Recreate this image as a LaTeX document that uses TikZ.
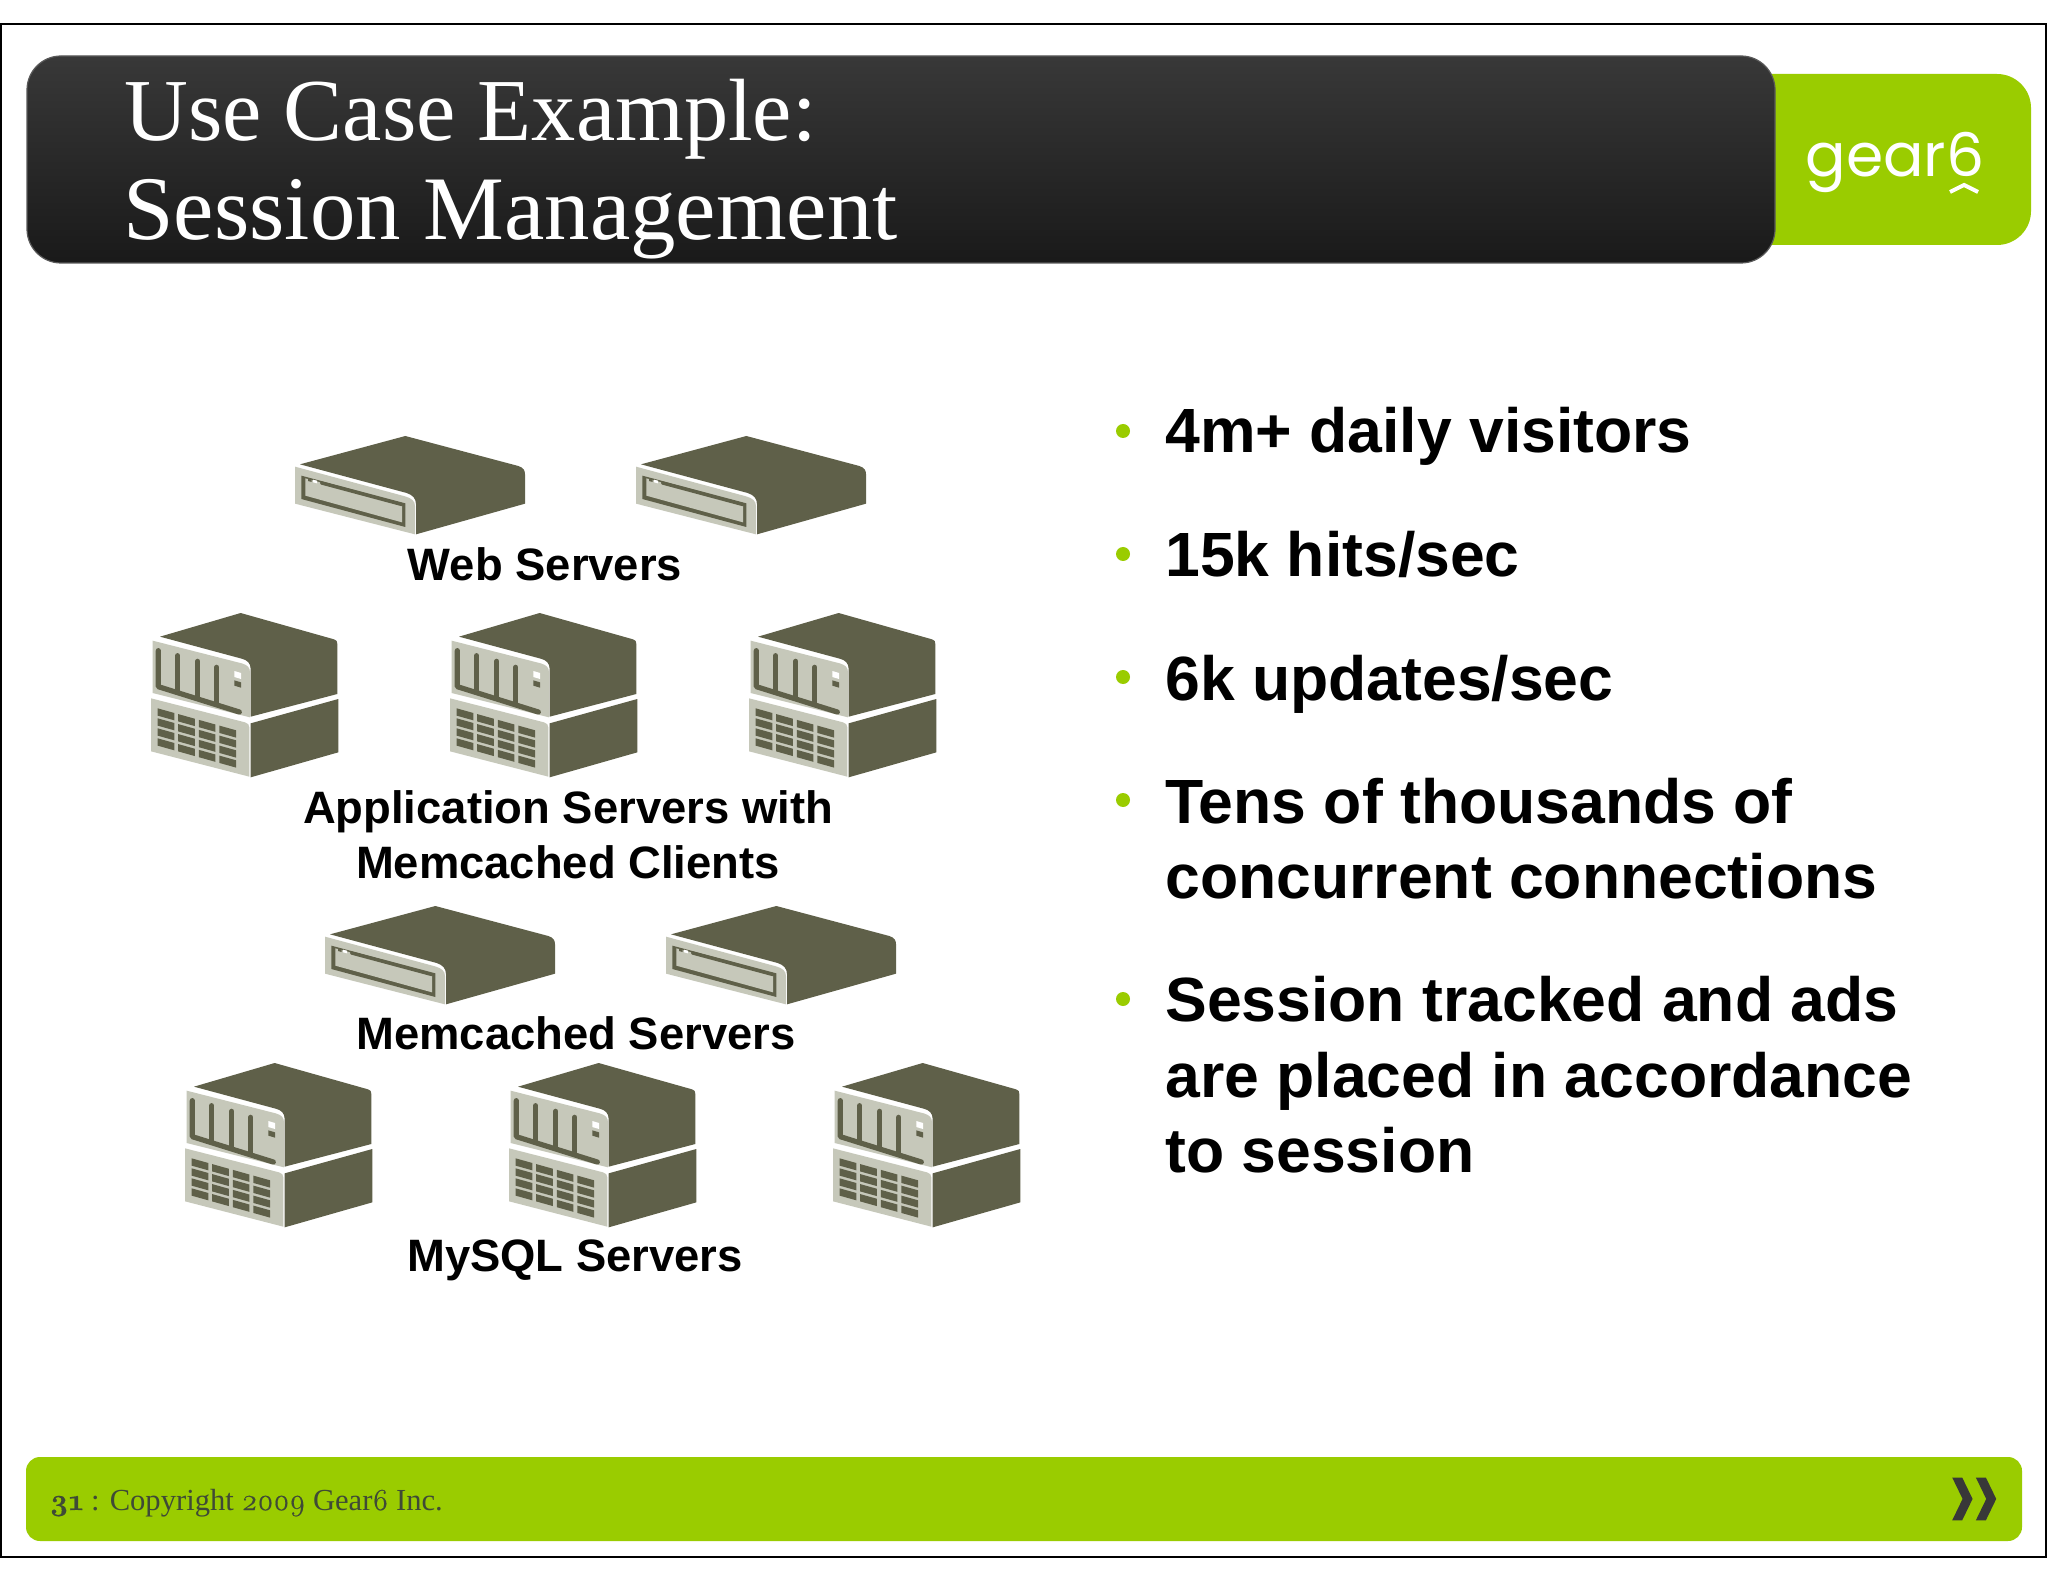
\documentclass[tikz,border=0pt]{standalone}
\usepackage{fontspec}
\setmainfont{Liberation Sans}
\newfontfamily\serifface{Liberation Serif}
\newfontfamily\logoface{Poppins}
\newfontfamily\oldface[Numbers=OldStyle,FakeBold=0.5]{Latin Modern Roman}
\definecolor{srvdark}{HTML}{5F6049}
\definecolor{srvlight}{HTML}{C6C8BA}
\definecolor{geargreen}{HTML}{9ACC00}
\definecolor{footink}{HTML}{3F4A36}
\tikzset{
  x=0.5pt,y=-0.5pt,
  lab/.style={inner sep=0pt,anchor=base,font=\fontsize{22.7}{26}\selectfont\bfseries,text=black},
  bul/.style={inner sep=0pt,anchor=base west,font=\fontsize{31.25}{36}\selectfont\bfseries,text=black},
  dot/.style={circle,fill=geargreen,inner sep=0pt,minimum size=7pt},
  ttl/.style={inner sep=0pt,anchor=base west,text=white},
  smallsrv/.pic={
    \begin{scope}[scale=1/3,shift={(-495,-45)}]
      \fill[srvdark] (510,130) -- (826,45) -- (1165,135) .. controls (1180,140) and (1185,148) .. (1185,160) -- (1185,248) -- (858,340) -- (858,250) .. controls (858,232) and (848,222) .. (830,216) -- cycle;
      \fill[srvlight] (495,137) -- (825,226) .. controls (845,232) and (855,240) .. (855,255) -- (855,340) -- (495,248) -- cycle;
      \fill[srvdark] (514,164) -- (826,247) -- (826,318) -- (514,234) -- cycle;
      \fill[srvlight] (526,172) -- (816,250) -- (816,304) -- (526,224) -- cycle;
      \fill[srvdark] (534,172) -- (545,175) -- (545,183) -- (534,180) -- cycle;
      \fill[white] (549,176) -- (561,179) -- (561,187) -- (549,184) -- cycle;
      \draw[srvdark,line width=1.6pt,line cap=round] (574,186) -- (816,251);
    \end{scope}
  },
  bigsrv/.pic={
    \begin{scope}[scale=1/3,shift={(-63,-577)}]
      \fill[srvdark] (90,648) -- (332,577) -- (612,656) .. controls (620,658) and (622,662) .. (622,670) -- (622,820) -- (362,888) -- (362,745) .. controls (362,728) and (352,718) .. (335,714) -- cycle;
      \fill[srvlight] (68,660) -- (335,728) .. controls (352,733) and (360,740) .. (360,755) -- (360,890) -- (68,817) -- cycle;
      \fill[srvdark] (362,908) -- (625,835) -- (625,995) -- (362,1070) -- cycle;
      \fill[srvlight] (63,833) -- (345,905) .. controls (354,908) and (358,912) .. (358,920) -- (358,1068) -- (63,992) -- cycle;
      \begin{scope}[srvdark,line width=2.6pt,line cap=round,line join=round]
        \draw (85,690) -- (85,798) -- (328,874);
        \draw (143,705) -- (143,815);
        \draw (203,722) -- (203,833);
        \draw (260,740) -- (260,850);
      \end{scope}
      \fill[white] (313,751) -- (333,757) -- (333,775) -- (313,769) -- cycle;
      \fill[srvdark] (313,779) -- (333,785) -- (333,801) -- (313,795) -- cycle;
      \foreach \c in {0,...,3} \foreach \r in {0,...,3} {
        \fill[srvdark,shift={({83+61.7*\c},{863+0.28*61.7*\c+30*\r})}] (0,0) -- (50,14) -- (50,36) -- (0,22) -- cycle;
      }
    \end{scope}
  }
}
\begin{document}
\begin{tikzpicture}
\useasboundingbox (0,0) rectangle (2048,1582);
\fill[white] (0,0) rectangle (2048,1582);
\draw[black,line width=1pt] (1,24) rectangle (2046,1557);
% logo panel
\fill[geargreen,rounded corners=17pt] (1700,74) rectangle (2031,245);
\node[inner sep=0pt,anchor=base,text=white,font=\logoface\fontsize{30}{36}\selectfont] (logo) at (1895,177) {gear6};
\draw[white,line width=2pt] (1950,192) -- (1964,185) -- (1978,192);
% title
\shade[top color=black!78,bottom color=black!90,draw=black!65,line width=0.6pt,rounded corners=17pt] (27,56) rectangle (1775,263);
\node[ttl,font=\serifface\fontsize{44.2}{50}\selectfont] (t1) at (124,141) {Use Case Example:};
\node[ttl,font=\serifface\fontsize{45.4}{50}\selectfont] (t2) at (123,240) {Session Management};
% servers
\pic at (295,436) {smallsrv};
\pic at (636,436) {smallsrv};
\pic at (151,613) {bigsrv};
\pic at (450,613) {bigsrv};
\pic at (749,613) {bigsrv};
\pic at (325,906) {smallsrv};
\pic at (666,906) {smallsrv};
\pic at (185,1063) {bigsrv};
\pic at (509,1063) {bigsrv};
\pic at (833,1063) {bigsrv};
% labels
\node[lab] (l1) at (545,581) {Web Servers};
\node[lab] (l2) at (568,823) {Application Servers with};
\node[lab] (l3) at (568,878) {Memcached Clients};
\node[lab] (l4) at (576,1049) {Memcached Servers};
\node[lab] (l5) at (575,1271) {MySQL Servers};
% bullets
\node[dot] (d1) at (1123,431) {};
\node[dot] (d2) at (1123,554) {};
\node[dot] (d3) at (1123,677) {};
\node[dot] (d4) at (1123,800) {};
\node[dot] (d5) at (1123,999) {};
\node[bul] (b1) at (1165,453) {4m+ daily visitors};
\node[bul] (b2) at (1165,576) {15k hits/sec};
\node[bul] (b3) at (1165,700) {6k updates/sec};
\node[bul] (b4) at (1165,823) {Tens of thousands of};
\node[bul] (b4b) at (1165,898) {concurrent connections};
\node[bul] (b5) at (1165,1021) {Session tracked and ads};
\node[bul] (b5b) at (1165,1097) {are placed in accordance};
\node[bul] (b5c) at (1165,1172) {to session};
% footer
\fill[geargreen,rounded corners=7pt] (26,1457) rectangle (2022,1541);
\node[inner sep=0pt,anchor=base west,text=footink,font=\fontsize{15.3}{17}\selectfont] (foot) at (49,1510)
  {{\oldface\bfseries 31}\serifface{} : Copyright {\oldface 2009} Gear{\oldface 6} Inc.};
\begin{scope}[x=1/6*1pt,y=-1/6*1pt,shift={(5640,4290)}]
  \fill[black!78] (217,143) -- (247,143) -- (278,207) -- (247,271) -- (217,271) -- (248,207) -- cycle;
  \fill[black!78] (288,143) -- (318,143) -- (349,207) -- (318,271) -- (288,271) -- (319,207) -- cycle;
\end{scope}
\end{tikzpicture}
\end{document}
